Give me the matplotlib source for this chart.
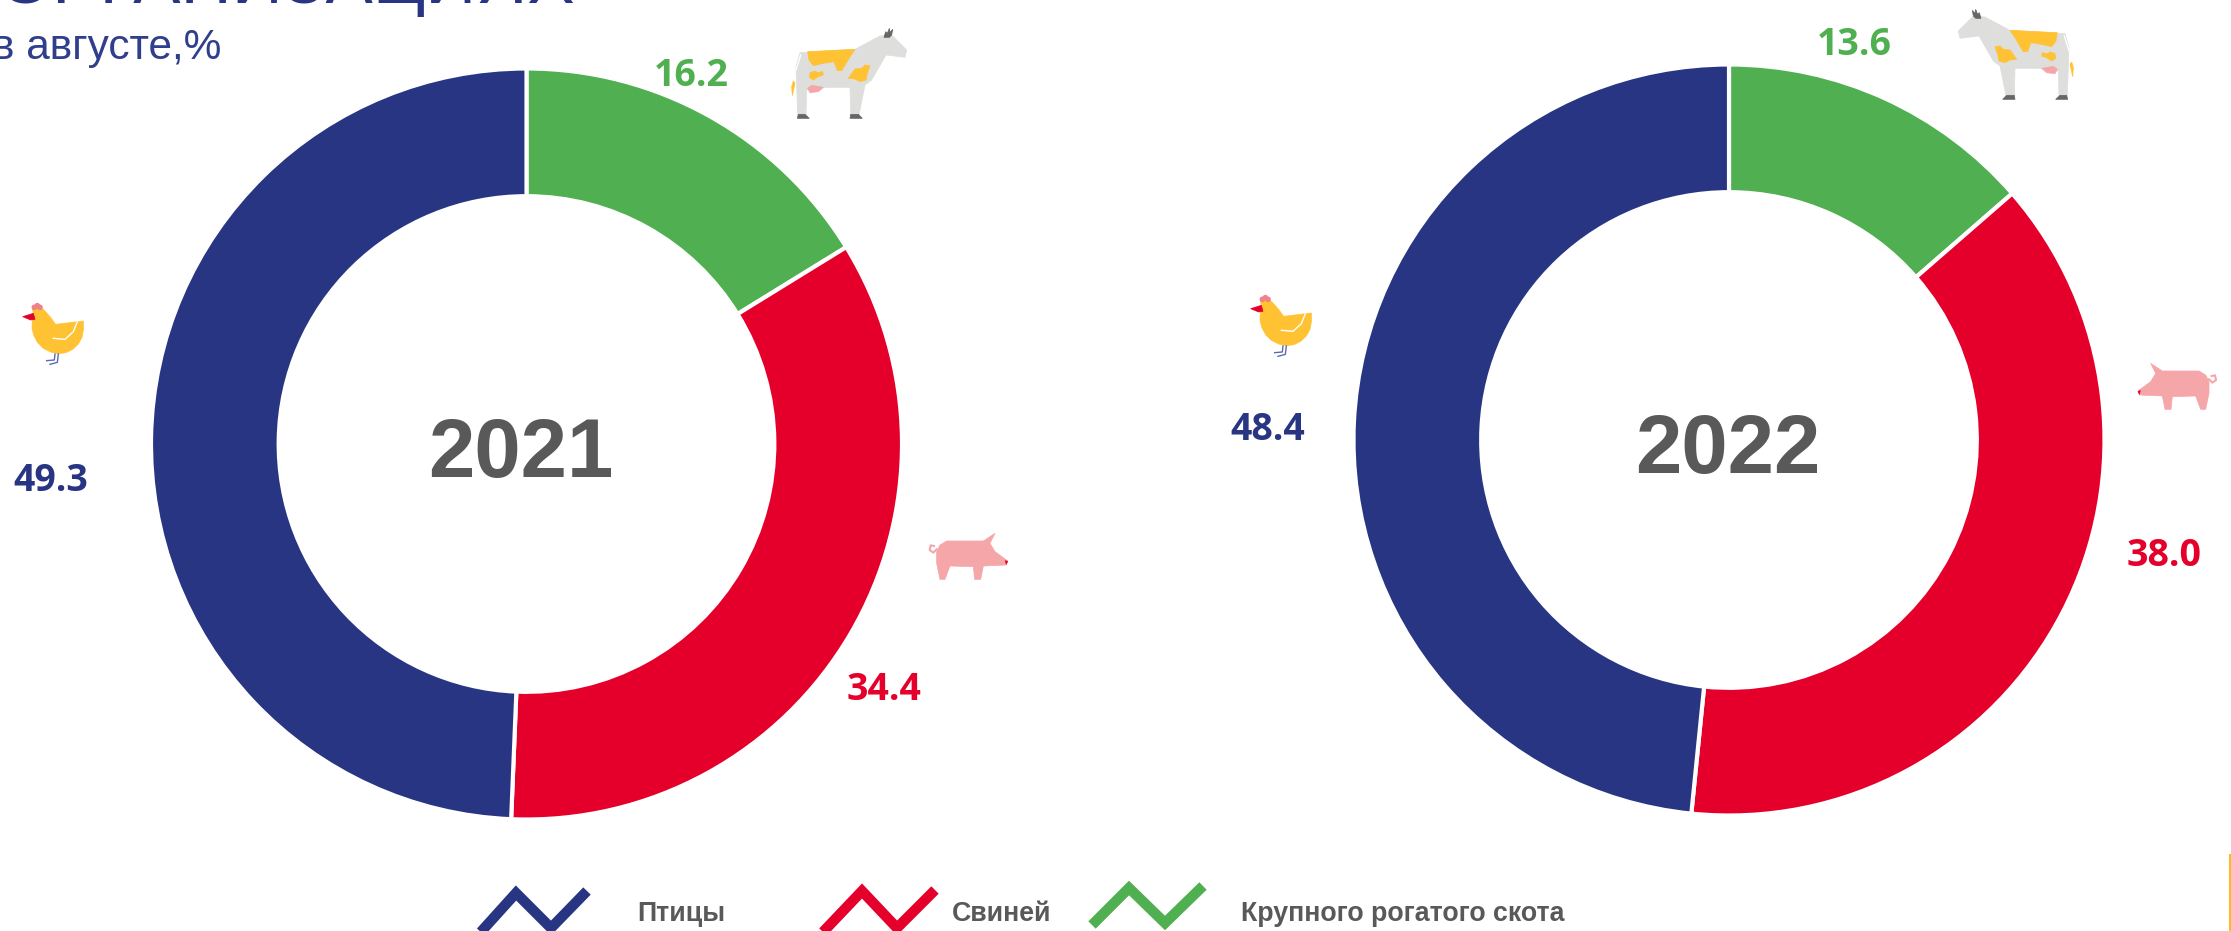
import matplotlib
matplotlib.use('Agg')
import matplotlib.pyplot as plt
from matplotlib.patches import Polygon, Circle

# shares, clockwise from the top
categories = ['Крупного рогатого скота', 'Свиней', 'Птицы']
values_2021 = [16.2, 34.4, 49.3]
values_2022 = [13.6, 38.0, 48.4]
years = ['2021', '2022']

NAVY = '#283583'
RED = '#E4002B'
GREEN = '#50AF50'
GREY = '#595959'
YELLOW = '#FFC233'
PINK = '#F5A6A8'
colors = [GREEN, RED, NAVY]

W, H = 2231, 931
R = 375.5

fig = plt.figure(figsize=(W / 100, H / 100), dpi=100, facecolor='white')


def donut(values, cx, cy, year, year_dx):
    ax = fig.add_axes([(cx - R) / W, 1 - (cy + R) / H, 2 * R / W, 2 * R / H])
    ax.pie(values, colors=colors, startangle=90, counterclock=False, radius=1,
           wedgeprops=dict(width=0.34, edgecolor='white', linewidth=3))
    ax.set_xlim(-1, 1)
    ax.set_ylim(-1, 1)
    ax.text(year_dx, -0.03, year, ha='center', va='center', fontsize=60, fontweight='bold',
            family='Liberation Sans', color=GREY)


donut(values_2021, 526.5, 444, years[0], -0.015)
donut(values_2022, 1729, 440, years[1], -0.004)

# overlay in pixel coordinates for text and pictures
ov = fig.add_axes([0, 0, 1, 1])
ov.set_xlim(0, W)
ov.set_ylim(H, 0)
ov.axis('off')
ov.patch.set_alpha(0)

ov.text(575, 3, 'ОРГАНИЗАЦИЯХ', ha='right', va='baseline', fontsize=51,
        family='Liberation Sans', color=NAVY)
ov.text(221, 59, 'в августе,%', ha='right', va='baseline', fontsize=30.5,
        family='Liberation Sans', color='#2F3F8C')

label_pos = [(691, 76), (884, 690), (51, 481), (1854, 45), (2164, 556), (1268, 430)]
label_vals = values_2021 + values_2022
label_cols = colors + colors
for (x, y), v, c in zip(label_pos, label_vals, label_cols):
    ov.text(x, y, f'{v:.1f}', ha='center', va='center', fontsize=27, fontweight='bold',
            family='Open Sans', color=c)

# legend
zigzags = [
    ([479, 516, 551, 587], [934, 893, 928, 891], NAVY, 637, 'Птицы'),
    ([823, 862, 897, 935], [932, 891, 928, 890], RED, 952, 'Свиней'),
    ([1092, 1129, 1165, 1203], [925, 888, 923, 886], GREEN, 1241, 'Крупного рогатого скота'),
]
for xs, ys, c, tx, name in zigzags:
    ov.plot(xs, ys, color=c, lw=7.5, solid_capstyle='butt', solid_joinstyle='miter')
    ov.text(tx, 921, name, ha='left', va='baseline', fontsize=19.3, fontweight='bold',
            family='Liberation Sans', color=GREY)

ov.add_patch(plt.Rectangle((2229, 854), 3, 77, color='#FDB91E', lw=0))

# pictures, traced in the crop coordinates (3x)
cow_parts = [
    ('#DEDEDD', [(120, 158), (285, 148), (360, 108), (395, 105), (440, 150), (435, 172), (378, 165),
                 (335, 240), (315, 255), (297, 345), (272, 345), (270, 262), (200, 262), (140, 270),
                 (138, 345), (113, 345), (108, 200)]),
    (YELLOW, [(143, 155), (285, 148), (270, 170), (245, 212), (232, 212), (222, 185), (190, 190),
              (160, 197), (147, 180)]),
    (YELLOW, [(150, 218), (165, 213), (172, 218), (188, 215), (190, 225), (175, 230), (160, 240), (148, 232)]),
    (YELLOW, [(265, 235), (285, 207), (305, 205), (315, 195), (330, 197), (322, 220), (318, 240),
              (300, 245), (285, 237)]),
    (PINK, [(143, 265), (155, 256), (190, 262), (175, 275), (150, 278)]),
    (YELLOW, [(100, 243), (105, 250), (97, 287), (95, 260)]),
    ('#666666', [(115, 343), (135, 343), (148, 355), (112, 355)]),
    ('#666666', [(272, 343), (295, 343), (307, 355), (270, 355)]),
    ('#666666', [(372, 112), (377, 95), (382, 100), (388, 85), (390, 97), (398, 88), (395, 105), (388, 112)]),
]
pig_parts = [
    (PINK, [(110, 95), (120, 75), (140, 63), (250, 63), (285, 40), (270, 70), (285, 95), (322, 122),
            (318, 135), (250, 138), (242, 178), (224, 178), (220, 140), (150, 138), (135, 178),
            (120, 178), (110, 130)]),
    (RED, [(316, 122), (323, 124), (319, 133)]),
]
hen_parts = [
    (YELLOW, [(100, 100), (97, 85), (112, 78), (130, 88), (150, 110), (167, 133), (250, 123), (250, 150),
              (246, 172), (235, 192), (218, 208), (198, 218), (175, 221), (152, 216), (130, 205),
              (113, 188), (102, 168), (96, 145), (97, 120)]),
    (RED, [(68, 110), (100, 100), (105, 118), (92, 120)]),
]


def draw_parts(parts, x0, y0, mirror=None):
    # mirror is the crop x that maps x -> mirror - x
    conv = lambda p: (x0 + ((mirror - p[0]) if mirror else p[0]) / 3, y0 + p[1] / 3)
    for c, pts in parts:
        ov.add_patch(Polygon([conv(p) for p in pts], closed=True, color=c, lw=0.5))
    return conv


def draw_cow(x0, y0, mirror=None):
    conv = draw_parts(cow_parts, x0, y0, mirror)
    xs, ys = zip(*[conv(p) for p in [(122, 165), (108, 210)]])
    ov.plot(xs, ys, color='white', lw=1)


def draw_pig(x0, y0, mirror=None):
    conv = draw_parts(pig_parts, x0, y0, mirror)
    xs, ys = zip(*[conv(p) for p in [(110, 88), (100, 98), (89, 90), (92, 76), (102, 78)]])
    ov.plot(xs, ys, color=PINK, lw=1.5)


def draw_hen(x0, y0):
    conv = draw_parts(hen_parts, x0, y0)
    for p in [(103, 82), (112, 77), (120, 82)]:
        ov.add_patch(Circle(conv(p), 2.8, color='#F0808A', lw=0))
    for line, c, lw in [([(160, 175), (195, 178), (220, 155), (232, 125)], 'white', 1),
                        ([(165, 222), (163, 240), (140, 242)], '#5A6BB0', 1),
                        ([(175, 222), (172, 247), (150, 253)], '#5A6BB0', 1)]:
        xs, ys = zip(*[conv(p) for p in line])
        ov.plot(xs, ys, color=c, lw=lw)


draw_cow(760, 0)
draw_cow(1940, -19, mirror=495)
draw_pig(900, 520)
draw_pig(2120, 350, mirror=377)
draw_hen(0, 280)
draw_hen(1228, 272)

fig.savefig('out.png', dpi=100)
